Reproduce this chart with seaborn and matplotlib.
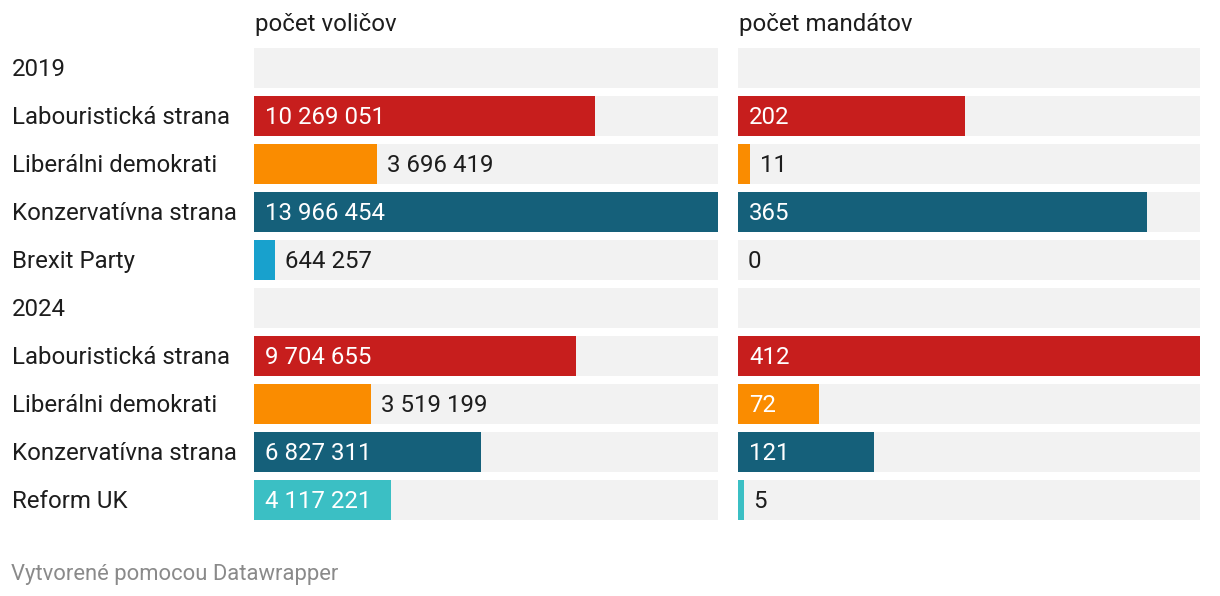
import numpy as np
import pandas as pd
import matplotlib
matplotlib.use("Agg")
import matplotlib.pyplot as plt
import matplotlib.transforms as mtransforms
import seaborn as sns

# data
years = ["2019", "2024"]
parties_2019 = ["Labouristická strana", "Liberálni demokrati", "Konzervatívna strana", "Brexit Party"]
votes_2019 = [10269051, 3696419, 13966454, 644257]
seats_2019 = [202, 11, 365, 0]
parties_2024 = ["Labouristická strana", "Liberálni demokrati", "Konzervatívna strana", "Reform UK"]
votes_2024 = [9704655, 3519199, 6827311, 4117221]
seats_2024 = [412, 72, 121, 5]
column_titles = ["počet voličov", "počet mandátov"]
footer = "Vytvorené pomocou Datawrapper"

party_colors = {
    "Labouristická strana": "#c71e1d",
    "Liberálni demokrati": "#fa8c00",
    "Konzervatívna strana": "#15607a",
    "Brexit Party": "#18a1cd",
    "Reform UK": "#3bbfc4",
}

rows = []
for year, parties, votes, seats in [(years[0], parties_2019, votes_2019, seats_2019),
                                    (years[1], parties_2024, votes_2024, seats_2024)]:
    rows.append({"key": year, "label": year, "header": True, "votes": 0, "seats": 0, "color": "#ffffff"})
    for p, v, s in zip(parties, votes, seats):
        rows.append({"key": year + "|" + p, "label": p, "header": False, "votes": v, "seats": s,
                     "color": party_colors[p]})
df = pd.DataFrame(rows)
order = list(df["key"])
palette = dict(zip(df["key"], df["color"]))

W, H = 1220, 596
fig = plt.figure(figsize=(W / 100, H / 100), dpi=100)
fig.patch.set_facecolor("white")
plt.rcParams["font.family"] = ["Roboto", "DejaVu Sans"]

FS = 24 * 0.72  # 24 px
TXT = "#1d1d1d"
GRAY = "#f2f2f2"
ROW = 48
TOP = 44


def px_axes(x0, x1):
    y0, y1 = TOP, TOP + ROW * len(df)
    return fig.add_axes([x0 / W, 1 - y1 / H, (x1 - x0) / W, (y1 - y0) / H])


def fmt(v):
    return f"{v:,}".replace(",", " ")


renderer = fig.canvas.get_renderer()
columns = [("votes", 254, 718), ("seats", 738, 1200)]
for (col, x0, x1), title in zip(columns, column_titles):
    ax = px_axes(x0, x1)
    vmax = df[col].max()
    track = df.assign(track=vmax)
    sns.barplot(data=track, y="key", x="track", order=order, color=GRAY,
                width=40 / 48, ax=ax, saturation=1, orient="h")
    bars = df[~df["header"]]
    sns.barplot(data=bars, y="key", x=col, order=order, hue="key", palette=palette,
                legend=False, width=40 / 48, ax=ax, saturation=1, orient="h")
    ax.set_xlim(0, vmax)
    ax.set_ylim(len(df) - 0.5, -0.5)
    ax.axis("off")

    px_per_unit = (x1 - x0) / vmax
    for i, r in df.iterrows():
        if r["header"]:
            continue
        v = r[col]
        s = fmt(v)
        bar_px = v * px_per_unit
        t = ax.text(0, i, s, fontsize=FS, transform=ax.transData)
        tw = t.get_window_extent(renderer).width
        t.remove()
        if bar_px >= tw + 22:
            tr = mtransforms.offset_copy(ax.transData, fig=fig, x=11, y=-8, units="dots")
            ax.text(0, i, s, fontsize=FS, color="white", va="baseline", ha="left", transform=tr)
        else:
            tr = mtransforms.offset_copy(ax.transData, fig=fig, x=10, y=-8, units="dots")
            ax.text(v, i, s, fontsize=FS, color=TXT, va="baseline", ha="left", transform=tr)

    fig.text((x0 + 1) / W, 1 - 31 / H, title, fontsize=FS, color=TXT, va="baseline", ha="left")

# row labels
for i, r in df.iterrows():
    y = TOP + ROW * i + ROW / 2 + 8
    fig.text(12 / W, 1 - y / H, r["label"], fontsize=FS, color=TXT, va="baseline", ha="left")

fig.text(11 / W, 1 - 580 / H, footer, fontsize=22 * 0.72, color="#8a8a8a", va="baseline", ha="left")

fig.savefig("out.png", dpi=100, facecolor="white")
